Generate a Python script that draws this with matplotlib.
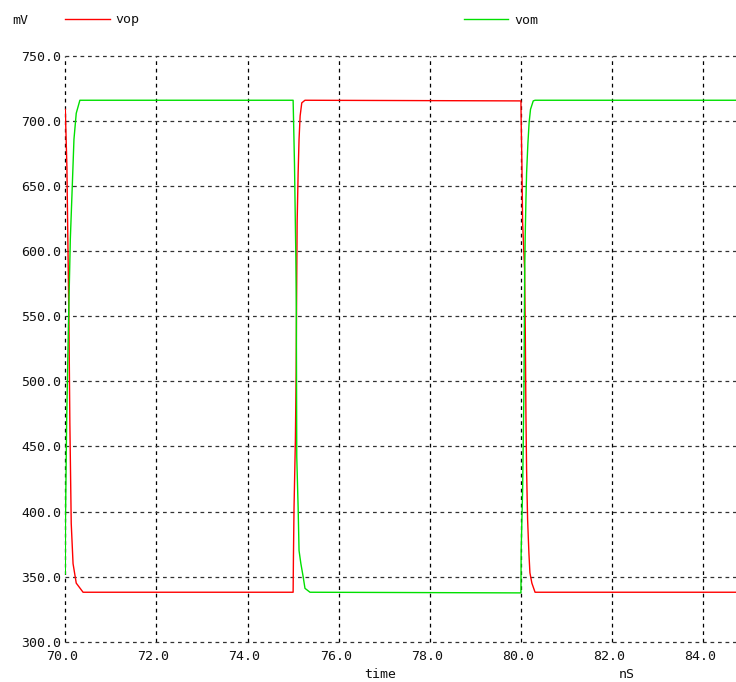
import matplotlib
matplotlib.use('Agg')
import matplotlib.pyplot as plt
import matplotlib.transforms as mtransforms
from matplotlib.lines import Line2D

# transient waveforms (time in nS, voltage in mV)
vop_t = [70.0, 70.035, 70.08, 70.10, 70.13, 70.17, 70.24, 70.39,
         75.0, 75.007, 75.02, 75.05, 75.066, 75.08, 75.088, 75.11, 75.13, 75.154, 75.19, 75.26,
         80.0, 80.005, 80.022, 80.037, 80.08, 80.095, 80.11, 80.124, 80.146, 80.175, 80.197, 80.24, 80.31,
         84.75]
vop_v = [709, 665, 545, 468, 391, 360, 345, 338,
         338, 365, 403, 455, 506, 583, 622, 660, 686, 704, 714, 716,
         715.5, 700, 665, 622, 586, 540, 473, 432, 394, 368, 353, 345, 338,
         338]

vom_t = [70.0, 70.003, 70.03, 70.07, 70.11, 70.15, 70.19, 70.24, 70.32,
         75.0, 75.01, 75.03, 75.06, 75.07, 75.08, 75.11, 75.13, 75.17, 75.22, 75.26, 75.37,
         80.0, 80.005, 80.037, 80.066, 80.081, 80.095, 80.11, 80.124, 80.153, 80.18, 80.21, 80.27, 80.31,
         84.75]
vom_v = [352, 391, 470, 545, 609, 647, 686, 706, 716,
         716, 700, 667, 595, 557, 442, 403, 370, 360, 350, 341, 338,
         337.5, 370, 417, 494, 580, 614, 640, 660, 683, 699, 709, 715.5, 716,
         716]

x_ticks = [70, 72, 74, 76, 78, 80, 82, 84]
y_ticks = [300, 350, 400, 450, 500, 550, 600, 650, 700, 750]

W, H = 736, 682
fig = plt.figure(figsize=(W / 100, H / 100), dpi=100, facecolor='white')
mono = 'DejaVu Sans Mono'
tcol = '#111111'
fs = 9.5

# axes placed in pixel terms: left 65.3, top 56, bottom 641.7
ax = fig.add_axes([65.3 / W, (H - 641.7) / H, 1 - 65.3 / W, (641.7 - 56) / H])
ax.set_facecolor('white')

ax.plot(vop_t, vop_v, color='#ff0000', lw=1.0, zorder=3)
ax.plot(vom_t, vom_v, color='#00e000', lw=1.0, zorder=3)

ax.set_xlim(70, 84.72)
ax.set_ylim(300, 750)
ax.set_xticks(x_ticks)
ax.set_yticks(y_ticks)
ax.set_xticklabels(['%.1f' % v for v in x_ticks], family=mono, fontsize=fs, color=tcol)
ax.set_yticklabels(['%.1f' % v for v in y_ticks], family=mono, fontsize=fs, color=tcol)
ax.tick_params(length=0)
ax.tick_params(axis='x', pad=6)
ax.tick_params(axis='y', pad=3)
for lab in ax.get_xticklabels():
    lab.set_transform(lab.get_transform() + mtransforms.ScaledTranslation(-3 / 100, 0, fig.dpi_scale_trans))

for s in ax.spines.values():
    s.set_visible(False)

# dashed grid, edges included
ax.grid(axis='x', color='black', linestyle=(0, (3, 3)), lw=0.9)
ax.grid(axis='y', color='#333333', linestyle=(0, (3, 3)), lw=0.9)
for gl in ax.get_xgridlines() + ax.get_ygridlines():
    gl.set_clip_on(False)

# axis annotations
fig.text(20.5 / W, 1 - 20 / H, 'mV', family=mono, fontsize=fs, color=tcol, ha='center', va='center')
fig.text(380 / W, 1 - 675 / H, 'time', family=mono, fontsize=fs, color=tcol, ha='center', va='center')
fig.text(627 / W, 1 - 675 / H, 'nS', family=mono, fontsize=fs, color=tcol, ha='center', va='center')

# legend entries drawn across the top
fig.add_artist(Line2D([65 / W, 110 / W], [1 - 19.3 / H, 1 - 19.3 / H], color='#ff0000', lw=1.0,
                      transform=fig.transFigure))
fig.text(115 / W, 1 - 20 / H, 'vop', family=mono, fontsize=fs, color=tcol, ha='left', va='center')
fig.add_artist(Line2D([464 / W, 508 / W], [1 - 19.3 / H, 1 - 19.3 / H], color='#00e000', lw=1.0,
                      transform=fig.transFigure))
fig.text(514 / W, 1 - 20 / H, 'vom', family=mono, fontsize=fs, color=tcol, ha='left', va='center')

fig.savefig('out.png', dpi=100, facecolor='white')
